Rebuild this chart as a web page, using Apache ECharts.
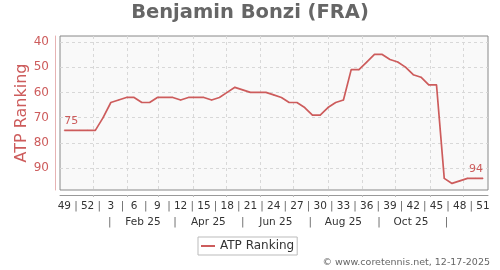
<!DOCTYPE html>
<html><head><meta charset="utf-8">
<script src="https://cdn.jsdelivr.net/npm/echarts@6/dist/echarts.min.js"></script>
<style>html,body{margin:0;padding:0;background:#fff}#c{width:500px;height:270px}</style>
</head><body><div id="c"></div>
<script>
const chartTitle = 'Benjamin Bonzi (FRA)';
const seriesName = 'ATP Ranking';
const credit = '\u00a9 www.coretennis.net, 12-17-2025';
const weeks = [49,50,51,52,1,2,3,4,5,6,7,8,9,10,11,12,13,14,15,16,17,18,19,20,21,22,23,24,25,26,27,28,29,30,31,32,33,34,35,36,37,38,39,40,41,42,43,44,45,46,47,48,49,50,51];
const ranks = [75,75,75,75,75,70,64,63,62,62,64,64,62,62,62,63,62,62,62,63,62,60,58,59,60,60,60,61,62,64,64,66,69,69,66,64,63,51,51,48,45,45,47,48,50,53,54,57,57,94,96,95,94,94,94];
const firstWeekDate = '2024-12-06';
const yTicks = [40,50,60,70,80,90];
const monthLabels = ['Feb 25','Apr 25','Jun 25','Aug 25','Oct 25'];
const monthLabelDates = ['2025-02-15','2025-04-15','2025-06-15','2025-08-15','2025-10-15'];
const monthSepDates = ['2025-01-16','2025-03-16','2025-05-16','2025-07-16','2025-09-16','2025-11-16'];
const monthStartDates = ['2025-01-01','2025-02-01','2025-03-01','2025-04-01','2025-05-01','2025-06-01','2025-07-01','2025-08-01','2025-09-01','2025-10-01','2025-11-01','2025-12-01'];

const DAY = 86400000;
const t = s => Date.parse(s + 'T00:00:00Z');
const t0 = t(firstWeekDate);
const weekTimes = weeks.map((w, i) => t0 + i * 7 * DAY);
const weekByTime = {};
weekTimes.forEach((tt, i) => { weekByTime[tt] = weeks[i]; });
const weekLabelTimes = weekTimes.filter((tt, i) => i % 3 === 0);
const weekSepTimes = weekLabelTimes.slice(0, -1).map(tt => tt + 10.5 * DAY);
const monthLabelTimes = monthLabelDates.map(t);
const monthLabelByTime = {};
monthLabelTimes.forEach((tt, i) => { monthLabelByTime[tt] = monthLabels[i]; });
const xMin = weekTimes[0] - 3.9 * DAY;
const xMax = weekTimes[weekTimes.length - 1] + 4.5 * DAY;
const RED = '#cd5c5c';
const FONT = 'DejaVu Sans';

const data = ranks.map((r, i) => {
  const d = { value: [weekTimes[i], r] };
  if (i === 0) d.label = { show: true, align: 'left' };
  if (i === ranks.length - 1) d.label = { show: true, align: 'right' };
  return d;
});

function xBase(extra) {
  return Object.assign({
    type: 'value', min: xMin, max: xMax, position: 'bottom', gridIndex: 0, scale: true,
    axisLine: { show: false }, axisTick: { show: false }, splitLine: { show: false }
  }, extra);
}

const chart = echarts.init(document.getElementById('c'), null, { renderer: 'canvas' });
chart.setOption({
  animation: false,
  backgroundColor: '#fff',
  textStyle: { fontFamily: FONT },
  title: { text: chartTitle, left: 'center', top: 3, padding: 0,
    textStyle: { fontFamily: FONT, fontSize: 19.5, fontWeight: 'bold', color: '#666' } },
  legend: { left: 198, top: 237, padding: [3, 3], borderColor: '#bbb', borderWidth: 1,
    itemWidth: 14, itemHeight: 2, icon: 'rect',
    textStyle: { fontFamily: FONT, fontSize: 12, color: '#333' }, data: [seriesName] },
  graphic: [{ type: 'text', right: 10, top: 258,
    style: { text: credit, fontFamily: FONT, fontSize: 9.5, fill: '#666' } }],
  grid: { left: 60, right: 12, top: 36, bottom: 80, show: true,
    backgroundColor: '#f9f9f9', borderColor: '#888', borderWidth: 1 },
  xAxis: [
    xBase({ offset: 5,
      axisLine: { show: true, lineStyle: { color: '#999' } },
      axisTick: { show: true, length: 2, customValues: monthStartDates.map(t), lineStyle: { color: '#bbb' } },
      splitLine: { show: true, lineStyle: { type: [3, 3], color: '#d8d8d8' } },
      axisLabel: { customValues: weekLabelTimes, margin: 6, fontSize: 10.5, color: '#333',
        formatter: v => String(weekByTime[v]) } }),
    xBase({ offset: 5,
      axisLabel: { customValues: weekSepTimes, margin: 6, fontSize: 10.5, color: '#666', formatter: () => '|' } }),
    xBase({ offset: 21,
      axisLabel: { customValues: monthLabelTimes, margin: 6, fontSize: 10.5, color: '#333',
        formatter: v => monthLabelByTime[v] } }),
    xBase({ offset: 21,
      axisLabel: { customValues: monthSepDates.map(t), margin: 6, fontSize: 10.5, color: '#666', formatter: () => '|' } })
  ],
  yAxis: {
    type: 'value', inverse: true, min: 37.7, max: 98.6, offset: 5,
    name: seriesName, nameLocation: 'middle', nameGap: 25, nameMoveOverlap: false,
    nameTextStyle: { fontFamily: FONT, fontSize: 16, color: RED },
    axisLine: { show: true, lineStyle: { color: '#e6b3b3' } },
    axisTick: { show: false, customValues: yTicks },
    axisLabel: { customValues: yTicks, color: RED, fontSize: 12, margin: 6 },
    splitLine: { show: true, lineStyle: { type: [3, 3], color: '#d8d8d8' } }
  },
  series: [{
    name: seriesName, type: 'line', xAxisIndex: 0, data: data,
    symbol: 'circle', symbolSize: 1, showSymbol: true,
    itemStyle: { color: RED }, lineStyle: { color: RED, width: 1.7 },
    label: { show: false, position: 'top', distance: 3, color: RED, fontSize: 11, fontFamily: FONT,
      formatter: p => String(p.value[1]) }
  }]
});
</script></body></html>
